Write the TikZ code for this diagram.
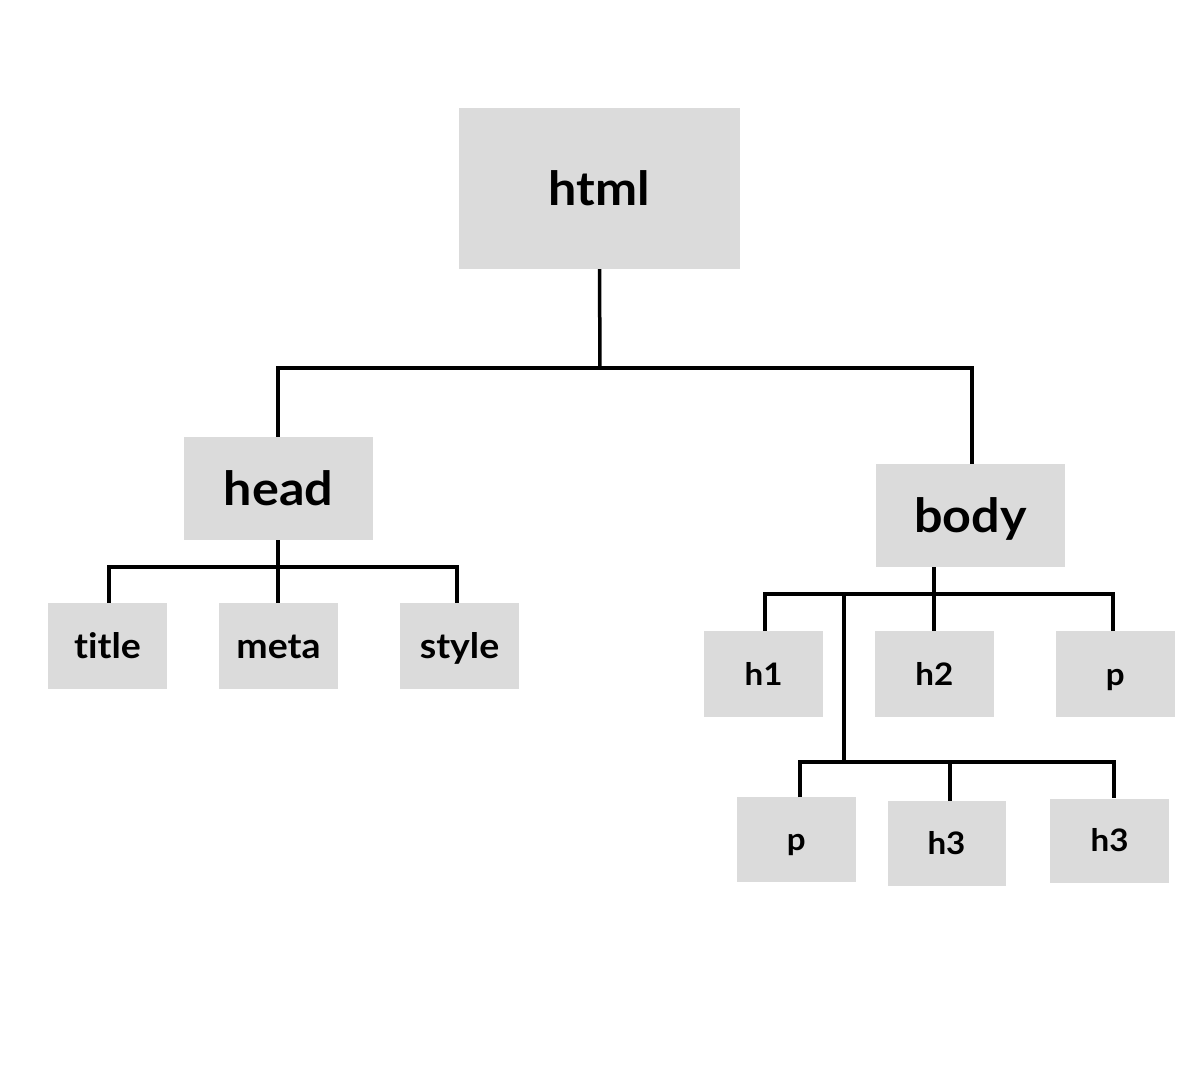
\documentclass[tikz,border=0pt]{standalone}
\usepackage{fontspec}
\setmainfont{Lato}[UprightFont=* Bold, Ligatures=NoCommon, FakeStretch=1.07]
\definecolor{boxgray}{HTML}{DBDBDB}
\begin{document}
\begin{tikzpicture}[x=1pt,y=-1pt,
  tag/.style={fill=boxgray, inner sep=0pt, text depth=0pt, align=center},
  big/.style={tag, font=\fontsize{47}{47}\selectfont, text height=34pt},
  mid/.style={tag, font=\fontsize{35}{35}\selectfont, text height=25pt, minimum width=119pt, minimum height=86pt},
  small/.style={tag, font=\fontsize{31}{31}\selectfont, text height=22pt, minimum width=119pt, minimum height=86pt},
  wire/.style={line width=3.5pt, line join=miter}]
\path[use as bounding box, fill=white] (0,0) rectangle (1200,1080);

% root
\node[big, minimum width=281pt, minimum height=161pt] (html) at (599.5,188.5) {html};
% second level
\node[big, minimum width=189pt, minimum height=103pt] (head) at (278.5,488.5) {head};
\node[big, minimum width=189pt, minimum height=103pt] (body) at (970.3,515.3) {body};
% children of head
\node[mid] (title) at (107.5,646) {title};
\node[mid] (meta)  at (278.5,646) {meta};
\node[mid] (style) at (459.5,646) {style};
% children of body
\node[small] (h1) at (763.7,674) {h1};
\node[small] (h2) at (934.3,674) {h2};
\node[small] (pa) at (1115.2,674) {p};
\node[small, minimum height=85pt] (pb)  at (796.2,839.7) {p};
\node[small, minimum width=118pt, minimum height=85pt] (h3a) at (946.5,843.3) {h3};
\node[small, minimum height=84pt] (h3b) at (1109.7,840.5) {h3};

% html branch
\coordinate (hb)  at (600,368);
\coordinate (hbL) at (278,368);
\coordinate (hbR) at (972,368);
\draw[wire] (html.south) -- (hb);
\draw[wire] (hbL |- head.north) -- (hbL) -- (hbR) -- (hbR |- body.north);

% head branch
\coordinate (hd)  at (278,567);
\coordinate (hdL) at (109,567);
\coordinate (hdR) at (457,567);
\draw[wire] (hd |- head.south) -- (hd |- meta.north);
\draw[wire] (hdL |- title.north) -- (hdL) -- (hdR) -- (hdR |- style.north);

% body branch
\coordinate (bd)  at (934,594);
\coordinate (bdL) at (765,594);
\coordinate (bdR) at (1113,594);
\coordinate (bdM) at (844,594);
\draw[wire] (bd |- body.south) -- (bd |- h2.north);
\draw[wire] (bdL |- h1.north) -- (bdL) -- (bdR) -- (bdR |- pa.north);

% lower branch of body
\coordinate (lb)  at (844,762);
\coordinate (lbL) at (800,762);
\coordinate (lbR) at (1114,762);
\coordinate (lbM) at (950,762);
\draw[wire] (bdM) -- (lb);
\draw[wire] (lbL |- pb.north) -- (lbL) -- (lbR) -- (lbR |- h3b.north);
\draw[wire] (lbM) -- (lbM |- h3a.north);
\end{tikzpicture}
\end{document}
